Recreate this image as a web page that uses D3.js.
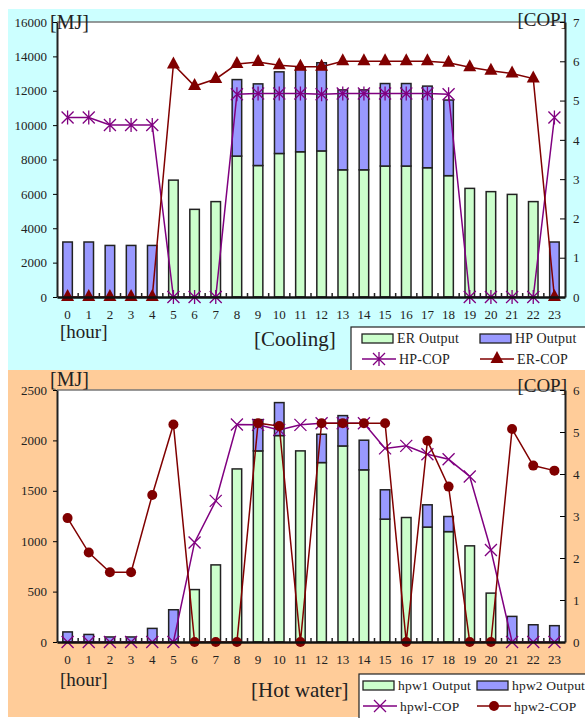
<!DOCTYPE html>
<html>
<head>
<meta charset="utf-8">
<script src="https://cdn.jsdelivr.net/npm/d3@7"></script>
<style>
  body { margin: 0; background: #fff; }
  svg { display: block; font-family: 'Liberation Serif', 'Times New Roman', serif; }
</style>
</head>
<body>
<div id="chart"></div>
<script>
// hours shared by both panels
const hours = d3.range(0, 24);

// cooling panel [MJ]
const erOutput = [0, 0, 0, 0, 0, 6800, 5100, 5550, 8200, 7650, 8350, 8450, 8500, 7400, 7400, 7620, 7620, 7520, 7060, 6320, 6130, 5970, 5550, 0];
const hpOutput = [3200, 3200, 3000, 3000, 3000, 0, 0, 0, 4450, 4750, 4750, 4900, 5130, 4650, 4650, 4800, 4800, 4750, 4400, 0, 0, 0, 0, 3200];
// cooling panel [COP]
const hpCop = [4.57, 4.57, 4.38, 4.38, 4.38, 0, 0, 0, 5.16, 5.18, 5.18, 5.18, 5.16, 5.18, 5.18, 5.18, 5.18, 5.18, 5.16, 0, 0, 0, 0, 4.57];
const erCop = [0, 0, 0, 0, 0, 5.92, 5.37, 5.55, 5.93, 5.98, 5.9, 5.86, 5.86, 6.0, 6.0, 6.0, 6.0, 6.0, 5.96, 5.85, 5.76, 5.69, 5.56, 0];

// hot water panel [MJ]
const hpw1Output = [0, 0, 0, 0, 0, 0, 520, 765, 1717, 1896, 2048, 1896, 1780, 1945, 1708, 1219, 1235, 1140, 1095, 954, 485, 0, 0, 0];
const hpw2Output = [100, 75, 50, 50, 135, 320, 0, 0, 0, 310, 327, 0, 281, 301, 294, 291, 0, 221, 150, 0, 0, 254, 171, 162];
// hot water panel [COP]
const hpw1Cop = [0, 0, 0, 0, 0, 0, 2.37, 3.36, 5.18, 5.17, 5.05, 5.17, 5.21, 5.21, 5.21, 4.61, 4.67, 4.47, 4.35, 3.94, 2.19, 0, 0, 0];
const hpw2Cop = [2.95, 2.13, 1.66, 1.66, 3.5, 5.18, 0, 0, 0, 5.21, 5.14, 0, 5.21, 5.21, 5.21, 5.21, 0, 4.79, 3.7, 0, 0, 5.07, 4.2, 4.08];

const mjTicksCool = d3.range(0, 16001, 2000);
const copTicksCool = d3.range(0, 8);
const mjTicksHot = d3.range(0, 2501, 500);
const copTicksHot = d3.range(0, 7);

const W = 585, H = 718;
const GREEN = '#ccffcc', BLUE = '#9999ff', PURPLE = '#800080', RED = '#800000';

const svg = d3.select('#chart').append('svg')
  .attr('width', W).attr('height', H);

function asterisk(g, x, y, color) {
  const r = 6;
  g.append('path')
    .attr('d', `M${x - r},${y - r}L${x + r},${y + r}M${x - r},${y + r}L${x + r},${y - r}M${x},${y - r - 1}L${x},${y + r + 1}`)
    .attr('stroke', color).attr('stroke-width', 1.3).attr('fill', 'none');
}
function cross(g, x, y, color) {
  const r = 6;
  g.append('path')
    .attr('d', `M${x - r},${y - r}L${x + r},${y + r}M${x - r},${y + r}L${x + r},${y - r}`)
    .attr('stroke', color).attr('stroke-width', 1.3).attr('fill', 'none');
}
function triangle(g, x, y, color) {
  g.append('path')
    .attr('d', `M${x},${y - 8}L${x + 6.5},${y + 4}L${x - 6.5},${y + 4}Z`)
    .attr('fill', color);
}
function dot(g, x, y, color) {
  g.append('circle').attr('cx', x).attr('cy', y).attr('r', 5).attr('fill', color);
}

function panel(cfg) {
  const g = svg.append('g');
  g.append('rect').attr('x', 8).attr('y', cfg.bgTop).attr('width', W - 8).attr('height', cfg.bgBottom - cfg.bgTop)
    .attr('fill', cfg.bg);

  const left = 57, right = 565, top = cfg.top, bottom = cfg.bottom;
  g.append('rect').attr('x', left).attr('y', top).attr('width', right - left).attr('height', bottom - top)
    .attr('fill', '#fff');
  g.append('line').attr('x1', left).attr('x2', right).attr('y1', top).attr('y2', top)
    .attr('stroke', '#777').attr('stroke-width', 1.5);

  const x = d3.scaleBand().domain(hours).range([left, right]).paddingInner(0.55).paddingOuter(0.275);
  const yL = d3.scaleLinear().domain([0, cfg.mjMax]).range([bottom, top]);
  const yR = d3.scaleLinear().domain([0, cfg.copMax]).range([bottom, top]);
  const cx = h => x(h) + x.bandwidth() / 2;

  // stacked bars
  const rows = hours.map(h => ({ h, a: cfg.barA[h], b: cfg.barB[h] }));
  const stack = d3.stack().keys(['a', 'b'])(rows);
  const colors = { a: GREEN, b: BLUE };
  stack.forEach(layer => {
    g.append('g').selectAll('rect').data(layer.filter(d => d[1] - d[0] > 0)).join('rect')
      .attr('x', d => x(d.data.h))
      .attr('y', d => yL(d[1]))
      .attr('width', x.bandwidth())
      .attr('height', d => yL(d[0]) - yL(d[1]))
      .attr('fill', colors[layer.key])
      .attr('stroke', '#222').attr('stroke-width', 1.5);
  });

  // lines
  const line = d3.line().x((d, i) => cx(i)).y(d => yR(d));
  cfg.lines.forEach(s => {
    g.append('path').datum(s.values).attr('d', line)
      .attr('fill', 'none').attr('stroke', s.color).attr('stroke-width', 1.5);
    s.values.forEach((v, i) => s.marker(g, cx(i), yR(v), s.color));
  });

  // axes
  const axL = g.append('g').attr('transform', `translate(${left},0)`)
    .call(d3.axisLeft(yL).tickValues(cfg.mjTicks).tickSize(4).tickSizeOuter(0).tickPadding(6).tickFormat(d3.format('d')));
  axL.select('.domain').attr('stroke', '#222').attr('stroke-width', 2);
  axL.selectAll('text').attr('font-size', 13).attr('fill', '#222').attr('font-family', 'Liberation Serif');

  const axR = g.append('g').attr('transform', `translate(${right},0)`)
    .call(d3.axisRight(yR).tickValues(cfg.copTicks).tickSize(-5).tickSizeOuter(0).tickPadding(8).tickFormat(d3.format('d')));
  axR.select('.domain').attr('stroke', '#222').attr('stroke-width', 2);
  axR.selectAll('text').attr('font-size', 13).attr('fill', '#222').attr('font-family', 'Liberation Serif');

  const axB = g.append('g').attr('transform', `translate(0,${bottom})`)
    .call(d3.axisBottom(x).tickSize(0).tickPadding(13));
  axB.select('.domain').attr('stroke', '#111').attr('stroke-width', 2.5);
  axB.selectAll('text').attr('font-size', 13).attr('fill', '#222').attr('font-family', 'Liberation Serif');
  // small inward ticks at category boundaries
  g.append('g').selectAll('line').data(hours.slice(1)).join('line')
    .attr('x1', h => x(h) - x.step() * 0.275).attr('x2', h => x(h) - x.step() * 0.275)
    .attr('y1', bottom).attr('y2', bottom - 4)
    .attr('stroke', '#222').attr('stroke-width', 1.5);

  // unit labels
  g.append('text').attr('x', 50).attr('y', cfg.mjY).attr('font-size', 20).attr('fill', '#222').text('[MJ]');
  g.append('text').attr('x', 567).attr('y', cfg.copY).attr('text-anchor', 'end').attr('font-size', 19).attr('fill', '#222').text('[COP]');
  g.append('text').attr('x', 60).attr('y', cfg.hourY).attr('font-size', 19).attr('fill', '#222').text('[hour]');
  g.append('text').attr('x', cfg.titleX).attr('y', cfg.titleY).attr('font-size', 21).attr('fill', '#222').text(cfg.title);

  // legend
  const lg = g.append('g');
  lg.append('rect').attr('x', cfg.legX).attr('y', cfg.legY).attr('width', W - cfg.legX + 5).attr('height', cfg.legH)
    .attr('fill', '#fff').attr('stroke', '#222').attr('stroke-width', 1.2);
  const r1 = cfg.legY + 11, r2 = cfg.legY + 32;
  const sw = cfg.legSw;
  const fs = cfg.legFont;
  [['a', cfg.names[0]], ['b', cfg.names[1]]].forEach(([k, name], i) => {
    lg.append('rect').attr('x', sw[i]).attr('y', r1 - 4).attr('width', 31).attr('height', 9)
      .attr('fill', colors[k]).attr('stroke', '#222').attr('stroke-width', 1.3);
    lg.append('text').attr('x', sw[i] + 35).attr('y', r1 + 5).attr('font-size', fs).attr('letter-spacing', 0.2)
      .attr('fill', '#222').text(name);
  });
  cfg.lines.forEach((s, i) => {
    lg.append('line').attr('x1', sw[i]).attr('x2', sw[i] + 34).attr('y1', r2).attr('y2', r2)
      .attr('stroke', s.color).attr('stroke-width', 1.5);
    s.marker(lg, sw[i] + 17, r2, s.color);
    lg.append('text').attr('x', sw[i] + 37).attr('y', r2 + 5).attr('font-size', fs).attr('letter-spacing', 0.2)
      .attr('fill', '#222').text(s.name);
  });
}

panel({
  bg: '#ccffff', bgTop: 9, bgBottom: 370, top: 22, bottom: 297,
  mjMax: 16000, copMax: 7, mjTicks: mjTicksCool, copTicks: copTicksCool,
  barA: erOutput, barB: hpOutput, names: ['ER Output', 'HP Output'],
  lines: [
    { name: 'HP-COP', values: hpCop, color: PURPLE, marker: asterisk },
    { name: 'ER-COP', values: erCop, color: RED, marker: triangle }
  ],
  mjY: 29, copY: 26, hourY: 338, title: '[Cooling]', titleX: 254, titleY: 346,
  legX: 351, legY: 327, legH: 44, legSw: [362, 480], legFont: 14
});

panel({
  bg: '#ffcc99', bgTop: 370, bgBottom: 717, top: 390, bottom: 642,
  mjMax: 2500, copMax: 6, mjTicks: mjTicksHot, copTicks: copTicksHot,
  barA: hpw1Output, barB: hpw2Output, names: ['hpw1 Output', 'hpw2 Output'],
  lines: [
    { name: 'hpwl-COP', values: hpw1Cop, color: PURPLE, marker: cross },
    { name: 'hpw2-COP', values: hpw2Cop, color: RED, marker: dot }
  ],
  mjY: 386, copY: 392, hourY: 686, title: '[Hot water]', titleX: 251, titleY: 697,
  legX: 359, legY: 674, legH: 46, legSw: [363, 477], legFont: 13.5
});
</script>
</body>
</html>
